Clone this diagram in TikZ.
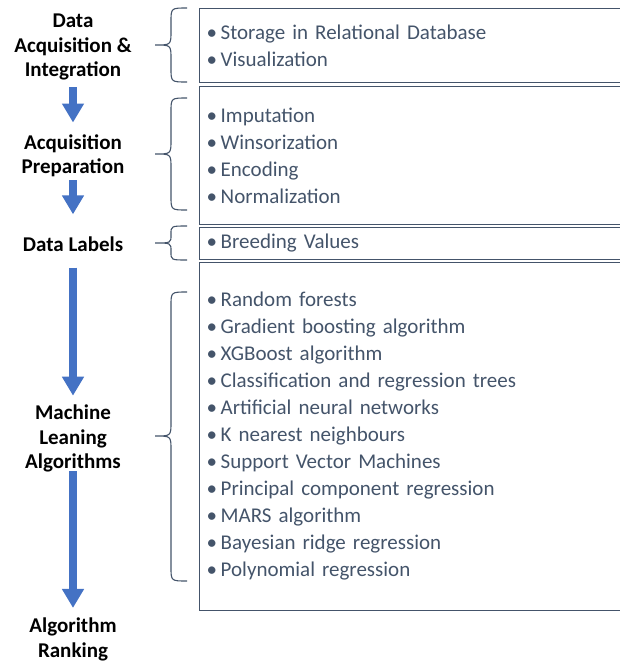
\documentclass[tikz,border=0pt]{standalone}
\usepackage{fontspec}
\setmainfont{Carlito}
\usetikzlibrary{positioning,arrows.meta}
\definecolor{SlateText}{HTML}{44546A}
\definecolor{ArrowBlue}{HTML}{4472C4}
\newcommand{\itm}{\makebox[14pt][l]{\textbullet}}
% left brace: top, tip, bottom, curl size
\newcommand{\leftcurly}[4]{%
  \draw[curly] (187,#1) .. controls (171,#1) .. (171,#1+#4) -- (171,#2-#4)
    .. controls (171,#2) .. (155,#2) .. controls (171,#2) .. (171,#2+#4)
    -- (171,#3-#4) .. controls (171,#3) .. (187,#3);}

\begin{document}
\begin{tikzpicture}[x=1pt,y=-1pt,
    stage/.style={font=\bfseries\fontsize{21}{24.5}\selectfont, align=center, inner sep=1pt},
    itembox/.style={draw=SlateText, line width=1.4pt, anchor=north west,
      text width=440pt, inner xsep=7pt, inner ysep=0pt, align=left,
      text=SlateText, font=\fontsize{21}{27}\selectfont},
    flow/.style={draw=ArrowBlue, line width=8.5pt, -{Triangle[width=21pt,length=19pt]}},
    curly/.style={draw=SlateText, line width=1.1pt}]
  \useasboundingbox (0,0) rectangle (620,662);
  \clip (0,0) rectangle (620,662);

  % stages
  \node[stage] (acq) at (73,47) {Data\\Acquisition \&\\Integration};
  \node[stage] (prep) at (73,156) {Acquisition\\Preparation};
  \node[stage] (lab) at (73,244) {Data Labels};
  \node[stage] (mla) at (73,438.5) {Machine\\Leaning\\Algorithms};
  \node[stage] (rank) at (73,639.5) {Algorithm\\Ranking};

  \draw[flow, shorten <=6pt, shorten >=11pt] (acq) -- (prep);
  \draw[flow, shorten <=2pt, shorten >=21pt] (prep) -- (lab);
  \draw[flow, shorten <=15pt, shorten >=8pt] (lab) -- (mla);
  \draw[flow, shorten <=-2pt, shorten >=9pt] (mla) -- (rank);

  % item boxes
  \node[itembox, minimum height=74pt] (b1) at (199,8)
    {\itm Storage in Relational Database\\
     \itm Visualization};
  \node[itembox, minimum height=138.5pt] (b2) at (199,85.5)
    {\itm Imputation\\
     \itm Winsorization\\
     \itm Encoding\\
     \itm Normalization};
  \node[itembox, minimum height=32.5pt] (b3) at (199,226.5)
    {\itm Breeding Values};
  \node[itembox, minimum height=348.5pt] (b4) at (199,261.5)
    {\itm Random forests\\
     \itm Gradient boosting algorithm\\
     \itm XGBoost algorithm\\
     \itm Classification and regression trees\\
     \itm Artificial neural networks\\
     \itm K nearest neighbours\\
     \itm Support Vector Machines\\
     \itm Principal component regression\\
     \itm MARS algorithm\\
     \itm Bayesian ridge regression\\
     \itm Polynomial regression};

  % braces
  \leftcurly{8}{45}{82}{14}
  \leftcurly{98}{154}{210}{14}
  \leftcurly{226}{243}{260}{8}
  \leftcurly{292}{436}{581}{14}
\end{tikzpicture}
\end{document}
